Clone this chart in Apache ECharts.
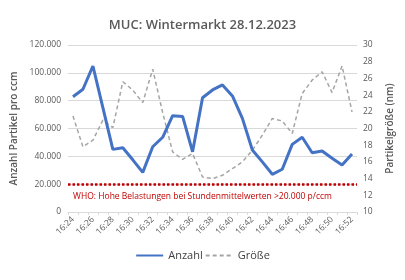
<!DOCTYPE html>
<html><head><meta charset="utf-8">
<script src="https://cdn.jsdelivr.net/npm/echarts@6/dist/echarts.min.js"></script>
<style>html,body{margin:0;padding:0;background:#fff}#c{width:405px;height:280px}</style>
</head><body><div id="c"></div>
<script>
var categories = ['16:24','16:25','16:26','16:27','16:28','16:29','16:30','16:31','16:32','16:33','16:34','16:35','16:36','16:37','16:38','16:39','16:40','16:41','16:42','16:43','16:44','16:45','16:46','16:47','16:48','16:49','16:50','16:51','16:52'];
var anzahl = [82800,88200,104900,75000,45000,46200,37500,28500,46900,53700,69200,68700,43300,82100,87700,91300,83400,67300,44600,36000,27100,30700,48600,53700,42600,43800,38600,33800,41700];
var groesse = [21.5,17.8,18.6,21.0,20.1,25.6,24.6,23.1,27.1,21.9,17.2,16.3,17.0,14.2,14.0,14.4,15.2,16.0,17.4,19.2,21.2,20.9,19.4,24.2,25.8,26.8,24.3,27.5,22.0];
var whoLimit = 20000;
var whoText = 'WHO: Hohe Belastungen bei Stundenmittelwerten >20.000 p/ccm';
var titleText = 'MUC: Wintermarkt 28.12.2023';

function fmt(v){ return String(v).replace(/\B(?=(\d{3})+(?!\d))/g, '.'); }
var FONT = "'Open Sans', 'Noto Sans', sans-serif";
var chart = echarts.init(document.getElementById('c'), null, {renderer:'canvas'});
chart.setOption({
  animation: false,
  textStyle: {fontFamily: FONT},
  title: {text: titleText, left: 'center', top: 14,
    textStyle: {fontFamily: FONT, fontSize: 13, fontWeight: 600, color: '#595959'}},
  grid: {left: 68, right: 48, top: 45, bottom: 68},
  legend: {bottom: 14, left: 'center', itemWidth: 27, itemHeight: 8, itemGap: 2,
    itemStyle: {opacity: 0},
    textStyle: {fontFamily: FONT, fontSize: 11, color: '#404040'},
    data: ['Anzahl', 'Größe']},
  xAxis: {type: 'category', data: categories, boundaryGap: true,
    axisLine: {lineStyle: {color: '#D9D9D9'}},
    axisTick: {show: true, interval: 0, length: 3, lineStyle: {color: '#D9D9D9'}},
    axisLabel: {interval: 1, rotate: 45, fontSize: 8.5, color: '#595959', margin: 6, fontFamily: FONT}},
  yAxis: [
    {type: 'value', min: 0, max: 120000, interval: 20000,
     name: 'Anzahl Partikel pro ccm', nameLocation: 'middle', nameRotate: 90, nameGap: 44,
     nameTextStyle: {fontSize: 10, fontWeight: 600, color: '#595959', fontFamily: FONT},
     axisLine: {show: false}, axisTick: {show: false},
     axisLabel: {formatter: fmt, fontSize: 8.5, color: '#595959', margin: 7, fontFamily: FONT},
     splitLine: {lineStyle: {color: '#D9D9D9'}}},
    {type: 'value', min: 10, max: 30, interval: 2, position: 'right',
     name: 'Partikelgröße (nm)', nameLocation: 'middle', nameRotate: 90, nameGap: 28,
     nameTextStyle: {fontSize: 10, fontWeight: 600, color: '#595959', fontFamily: FONT},
     axisLine: {show: false}, axisTick: {show: false},
     axisLabel: {fontSize: 8.5, color: '#595959', margin: 6, fontFamily: FONT},
     splitLine: {show: false}}
  ],
  graphic: [{type: 'text', left: 'center', top: 192,
    style: {text: whoText, fill: '#C00000', font: "8.5px 'Open Sans', sans-serif"}}],
  series: [
    {name: 'Anzahl', type: 'line', yAxisIndex: 0, data: anzahl, showSymbol: false, symbol: 'none',
     lineStyle: {color: '#4472C4', width: 3}, itemStyle: {color: '#4472C4'}, z: 3,
     markLine: {silent: true, symbol: 'none', label: {show: false},
       lineStyle: {color: '#C00000', width: 2.5, type: [2.5, 2]},
       data: [{yAxis: whoLimit}]}},
    {name: 'Größe', type: 'line', yAxisIndex: 1, data: groesse, showSymbol: false, symbol: 'none',
     lineStyle: {color: '#A5A5A5', width: 1.5, type: [4, 3]}, itemStyle: {color: '#A5A5A5'}, z: 2}
  ]
});
</script></body></html>
